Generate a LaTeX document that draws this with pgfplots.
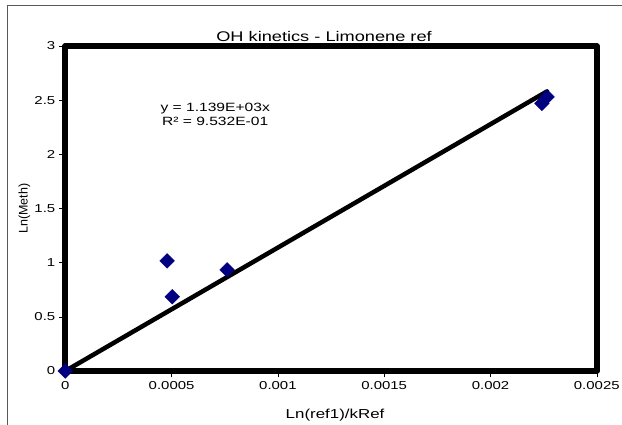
\documentclass[border=0pt]{standalone}
\usepackage{fontspec}
\setmainfont{Liberation Sans}
\newfontfamily\widefont[FakeStretch=1.3]{Liberation Sans}
\usepackage{pgfplots}
\pgfplotsset{compat=1.18}
\definecolor{navy}{RGB}{0,0,128}

\begin{document}
\begin{tikzpicture}
% picture area: 622 x 425 pt, axis box corner at the origin
\useasboundingbox (-65.3pt,-54pt) rectangle (556.7pt,371pt);
% outer chart frame (only left and top edges are inside the picture)
\draw[gray!70!black, line width=0.8pt] (-58.3pt,-56pt) -- (-58.3pt,366pt) -- (560pt,366pt);
\begin{axis}[
    width=531.5pt, height=325pt, scale only axis,
    xmin=0, xmax=0.0025, ymin=0, ymax=3,
    clip=false,
    scaled x ticks=false, scaled y ticks=false,
    axis line style={line width=6pt, line join=round},
    xtick={0,0.0005,0.001,0.0015,0.002,0.0025},
    xticklabels={0,0.0005,0.001,0.0015,0.002,0.0025},
    ytick={0,0.5,1,1.5,2,2.5,3},
    yticklabels={0,0.5,1,1.5,2,2.5,3},
    tick align=outside, tick pos=left,
    major tick length=6.5pt,
    tick style={black, line width=0.5pt},
    tick label style={font=\widefont\fontsize{11.5}{13}\selectfont},
    title={OH kinetics - Limonene ref},
    title style={font=\widefont\fontsize{14}{16}\selectfont,
        at={(0.5,1)}, anchor=base, yshift=-2pt, xshift=-7pt},
    xlabel={Ln(ref1)/kRef},
    xlabel style={font=\widefont\fontsize{13}{15}\selectfont,
        at={(0.5,0)}, anchor=base, yshift=-48pt, xshift=4pt},
]
\addplot[only marks, mark=square*, mark size=5.2pt,
    mark options={rotate=45, fill=navy, draw=navy}]
    coordinates {(0,0) (0.000479,1.016) (0.000503,0.686) (0.000761,0.933)
                 (0.002242,2.47) (0.002266,2.53)};
% linear fit through the origin, y = 1139 x
\addplot[black, line width=4.5pt, line cap=round]
    coordinates {(0,0) (0.002266,2.581)};
\node[font=\widefont\fontsize{12}{13.5}\selectfont, align=center]
    at (axis cs:0.000705,2.37) {y = 1.139E+03x\\R² = 9.532E-01};
\node[font=\fontsize{12.5}{15}\selectfont, rotate=90]
    at (axis description cs:-0.077,0.5) {Ln(Meth)};
\end{axis}
\end{tikzpicture}
\end{document}
